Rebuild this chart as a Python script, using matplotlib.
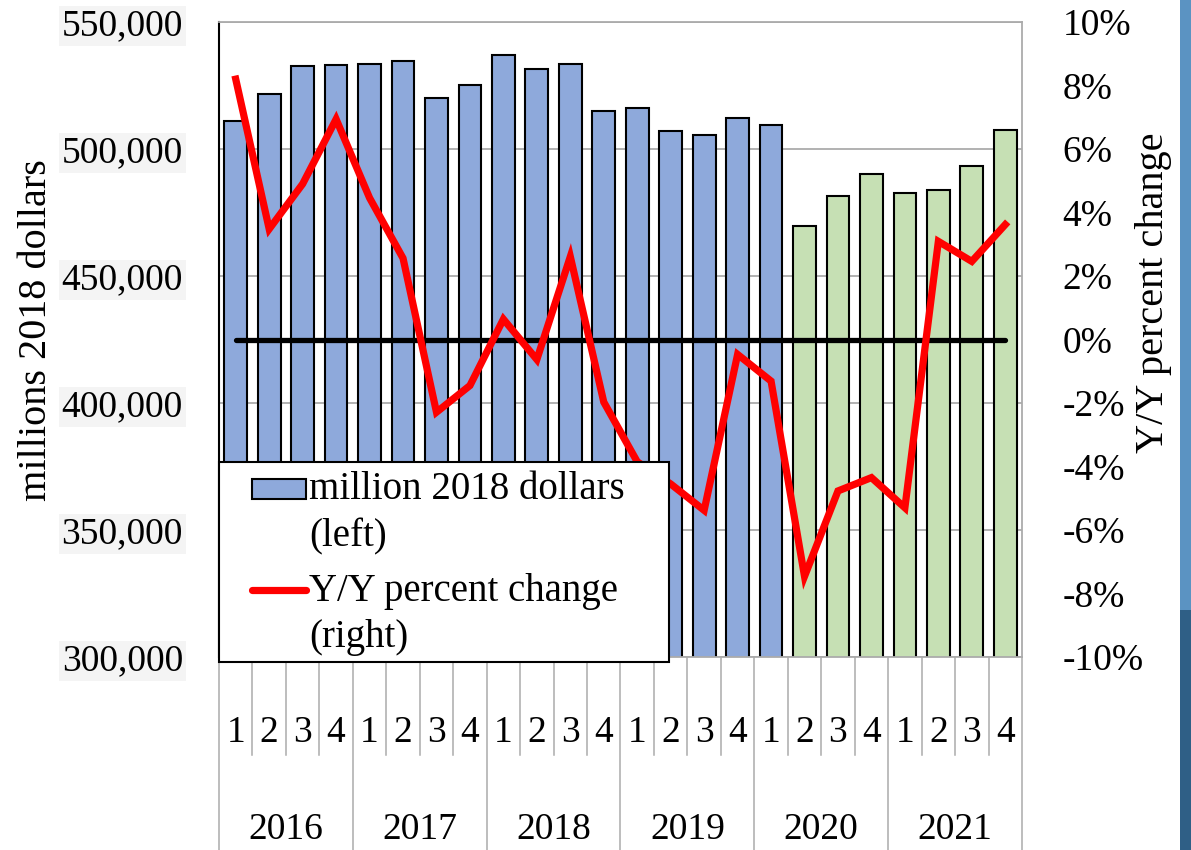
import numpy as np
import matplotlib
matplotlib.use('Agg')
from matplotlib import pyplot as plt
from matplotlib.patches import Rectangle
from matplotlib.lines import Line2D
from matplotlib.ticker import FuncFormatter
import matplotlib.transforms as mtransforms

years = ['2016', '2017', '2018', '2019', '2020', '2021']
quarters = ['1', '2', '3', '4'] * 6

# millions of 2018 dollars, 2016Q1 .. 2021Q4
dollars = [511000, 521500, 532500, 533000, 533600, 534800,
           520200, 525200, 536900, 531500, 533600, 515000,
           516300, 507100, 505400, 512400, 509400, 469700,
           481500, 490200, 482800, 483900, 493300, 507400]

# year over year percent change
pct_change = [8.2, 3.48, 4.9, 6.94, 4.46, 2.56,
              -2.29, -1.45, 0.64, -0.63, 2.61, -1.97,
              -3.85, -4.55, -5.38, -0.47, -1.31, -7.46,
              -4.77, -4.35, -5.3, 3.09, 2.46, 3.62]

n_actual = 17

plt.rcParams['font.family'] = ['Liberation Serif', 'DejaVu Serif']

W, H = 1191, 850
blue = '#8EA9DB'
green = '#C6E0B4'
grid_gray = '#ABABAB'


def px(x, y):
    # pixel position (from top left) to figure fraction
    return x / W, 1 - y / H


fig = plt.figure(figsize=(W / 100, H / 100), dpi=100)
ax = fig.add_axes([219 / W, 1 - 657 / H, 803 / W, 635 / H])

x = np.arange(len(dollars))
colors = [blue] * n_actual + [green] * (len(dollars) - n_actual)
ax.bar(x, dollars, width=0.68, color=colors, edgecolor='black', linewidth=1.5, zorder=2)
ax.set_xlim(-0.5, len(dollars) - 0.5)
ax.set_ylim(300000, 550000)
ax.set_yticks(range(300000, 550001, 50000))
ax.yaxis.set_major_formatter(FuncFormatter(lambda v, p: f'{int(v):,}'))
ax.grid(axis='y', color=grid_gray, linewidth=1.3, zorder=0)
ax.set_axisbelow(True)
ax.set_xticks([])
ax.tick_params(axis='y', length=0, pad=26, labelsize=27)
for lab in ax.get_yticklabels():
    lab.set_bbox(dict(facecolor='#F4F4F4', edgecolor='none', pad=2))

ax.spines['left'].set_color('black')
ax.spines['left'].set_linewidth(1.5)
for s in ['top', 'right', 'bottom']:
    ax.spines[s].set_color(grid_gray)
    ax.spines[s].set_linewidth(1.3)

ax2 = ax.twinx()
ax2.plot([0, len(dollars) - 1], [0, 0], color='black', lw=3.8, solid_capstyle='round', zorder=3)
ax2.plot(x, pct_change, color='#FF0000', lw=5.2, solid_joinstyle='miter', zorder=4)
ax2.set_ylim(-10, 10)
ax2.set_yticks(range(-10, 11, 2))
ax2.yaxis.set_major_formatter(FuncFormatter(lambda v, p: f'{int(round(v))}%'))
ax2.tick_params(axis='y', length=0, pad=29, labelsize=27)
for s in ax2.spines.values():
    s.set_visible(False)

# category axis: quarters and years
trans = mtransforms.blended_transform_factory(ax.transData, ax.transAxes)
for i, q in enumerate(quarters):
    ax.text(i, -0.12, q, transform=trans, ha='center', va='center', fontsize=27)
for j, yr in enumerate(years):
    ax.text(4 * j + 1.5, -0.272, yr, transform=trans, ha='center', va='center', fontsize=27)
for k in range(len(quarters) + 1):
    bottom = -0.32 if k % 4 == 0 else -0.155
    ax.add_line(Line2D([k - 0.5, k - 0.5], [0, bottom], transform=trans,
                       color=grid_gray, lw=1.1, clip_on=False))

fig.text(*px(37, 330), 'millions 2018 dollars', rotation=90,
         ha='center', va='center', fontsize=29)
fig.text(*px(1153, 293), 'Y/Y percent change', rotation=90,
         ha='center', va='center', fontsize=29)

# legend box, drawn by hand so the keys sit on the first text line
tf = fig.transFigure
fig.add_artist(Rectangle(px(219, 662), 450 / W, 200 / H, transform=tf,
                         facecolor='white', edgecolor='black', lw=1.5, zorder=10))
fig.add_artist(Rectangle(px(252, 499), 54 / W, 20 / H, transform=tf,
                         facecolor=blue, edgecolor='black', lw=1.5, zorder=11))
fig.add_artist(Line2D([252 / W, 306 / W], [1 - 590 / H, 1 - 590 / H], transform=tf,
                      color='#FF0000', lw=5.2, solid_capstyle='round', zorder=11))
legend_lines = [('million 2018 dollars', 490), ('(left)', 537),
                ('Y/Y percent change', 591), ('(right)', 637)]
for txt, yy in legend_lines:
    fig.text(*px(309, yy), txt, ha='left', va='center', fontsize=28, zorder=12)

# slide background strip on the right edge
fig.add_artist(Rectangle(px(1180, 610), 11 / W, 610 / H, transform=tf,
                         facecolor='#5B93C2', edgecolor='none'))
fig.add_artist(Rectangle(px(1180, 850), 11 / W, 240 / H, transform=tf,
                         facecolor='#2F5F86', edgecolor='none'))

fig.savefig('out.png', dpi=100)
